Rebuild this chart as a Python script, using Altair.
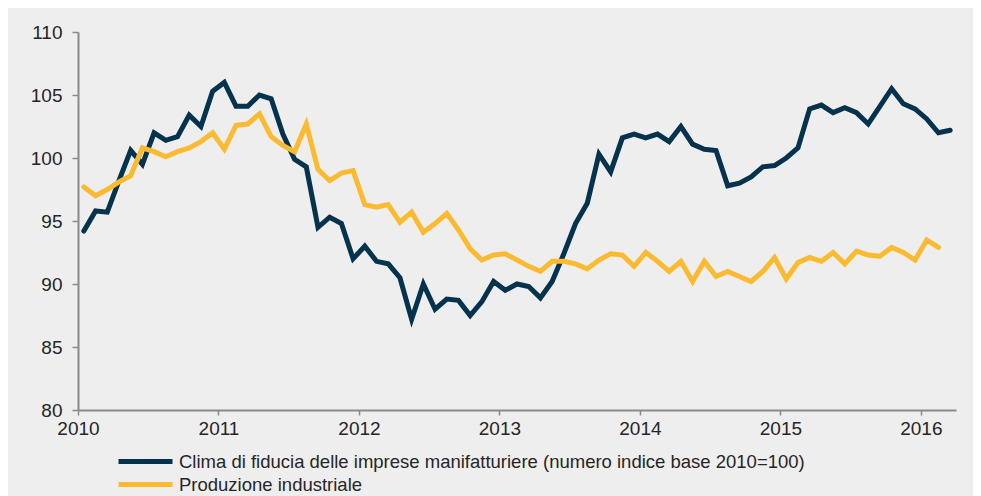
import altair as alt
import pandas as pd

series_names = [
    "Clima di fiducia delle imprese manifatturiere (numero indice base 2010=100)",
    "Produzione industriale",
]
series_colors = ["#05324d", "#fbba30"]

start_year = 2010
year_ticks = [2010, 2011, 2012, 2013, 2014, 2015, 2016]

# monthly values from Jan 2010
clima = [
    94.2, 95.8, 95.7, 98.2, 100.6, 99.5, 102.0, 101.4, 101.7, 103.4, 102.5, 105.3,
    106.0, 104.1, 104.1, 105.0, 104.7, 101.9, 99.9, 99.3, 94.5, 95.3, 94.8, 92.0,
    93.0, 91.8, 91.6, 90.5, 87.2, 90.0, 88.0, 88.8, 88.7, 87.5, 88.6, 90.2,
    89.5, 90.0, 89.8, 88.9, 90.2, 92.4, 94.8, 96.4, 100.3, 98.9, 101.6, 101.9,
    101.6, 101.9, 101.3, 102.5, 101.1, 100.7, 100.6, 97.8, 98.0, 98.5, 99.3, 99.4,
    100.0, 100.8, 103.9, 104.2, 103.6, 104.0, 103.6, 102.7, 104.1, 105.5, 104.3, 103.9,
    103.1, 102.0, 102.2,
]
produzione = [
    97.7, 97.0, 97.5, 98.1, 98.6, 100.8, 100.5, 100.1, 100.5, 100.8, 101.3, 102.0,
    100.7, 102.6, 102.7, 103.5, 101.7, 101.0, 100.5, 102.7, 99.1, 98.2, 98.8, 99.0,
    96.3, 96.1, 96.3, 94.9, 95.7, 94.1, 94.8, 95.6, 94.3, 92.8, 91.9, 92.3,
    92.4, 91.9, 91.4, 91.0, 91.8, 91.8, 91.6, 91.2, 91.9, 92.4, 92.3, 91.4,
    92.5, 91.8, 91.0, 91.8, 90.2, 91.8, 90.6, 91.0, 90.6, 90.2, 91.0, 92.1,
    90.4, 91.7, 92.1, 91.8, 92.5, 91.6, 92.6, 92.3, 92.2, 92.9, 92.5, 91.9,
    93.5, 92.9,
]

rows = []
for name, vals in zip(series_names, [clima, produzione]):
    for i, v in enumerate(vals):
        rows.append({"serie": name, "t": start_year + (i + 0.5) / 12, "valore": v})
df = pd.DataFrame(rows)

font = "Liberation Sans"
text_color = "#262626"
axis_color = "#8a8a8a"

chart = (
    alt.Chart(df)
    .mark_line(strokeWidth=5, strokeCap="round")
    .encode(
        x=alt.X(
            "t:Q",
            scale=alt.Scale(domain=[2010, 2016.25], nice=False, zero=False),
            axis=alt.Axis(
                values=year_ticks,
                format="d",
                title=None,
                grid=False,
                domainColor=axis_color,
                domainWidth=2,
                tickColor=axis_color,
                tickWidth=1.5,
                tickSize=5,
                labelFontSize=19,
                labelColor=text_color,
                labelFont=font,
                labelPadding=4,
                labelFlush=False,
                labelOverlap=False,
            ),
        ),
        y=alt.Y(
            "valore:Q",
            scale=alt.Scale(domain=[80, 110], nice=False, zero=False),
            axis=alt.Axis(
                values=[80, 85, 90, 95, 100, 105, 110],
                title=None,
                grid=False,
                domainColor=axis_color,
                domainWidth=2,
                tickColor=axis_color,
                tickWidth=1.5,
                tickSize=6,
                labelFontSize=19,
                labelColor=text_color,
                labelFont=font,
                labelPadding=10,
                labelFlush=False,
                labelOverlap=False,
            ),
        ),
        color=alt.Color(
            "serie:N",
            scale=alt.Scale(domain=series_names, range=series_colors),
            legend=alt.Legend(
                title=None,
                orient="none",
                legendX=56,
                legendY=418,
                direction="vertical",
                symbolType="M-3,0H3",
                symbolSize=324,
                symbolStrokeWidth=5,
                labelFontSize=18.5,
                labelFont=font,
                labelColor=text_color,
                labelLimit=1000,
                labelOffset=22,
                rowPadding=1,
                padding=0,
            ),
        ),
        order=alt.Order("t:Q"),
    )
    .properties(
        width=878,
        height=378,
        background="#eeeeee",
        padding={"left": 70, "top": 24, "right": 17, "bottom": 90},
        autosize=alt.AutoSizeParams(type="none"),
    )
    .configure_view(stroke=None)
)

chart.save("out.html", embed_options={"renderer": "svg", "actions": False})
